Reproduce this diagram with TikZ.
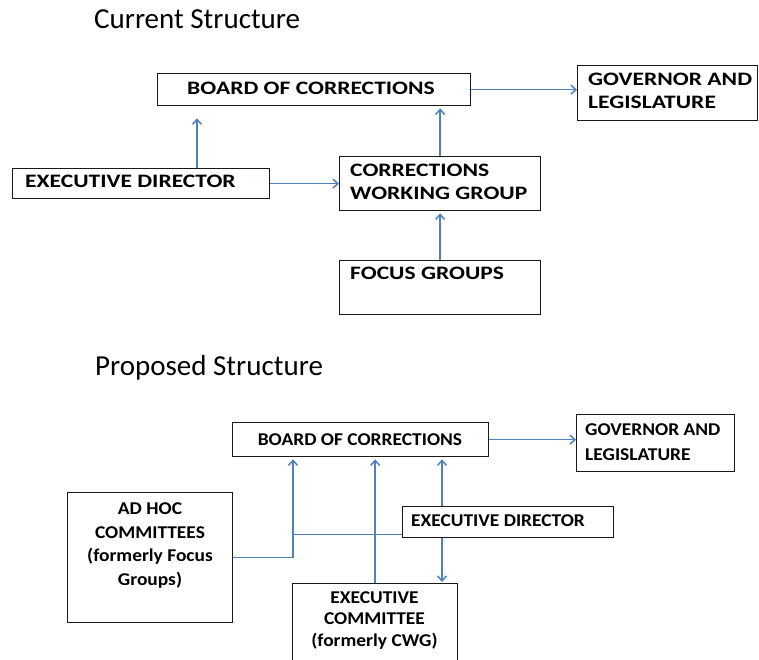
\documentclass[tikz,border=0pt]{standalone}
\usepackage{fontspec}
\setmainfont{Carlito}
\newfontfamily\topbox[FakeStretch=1.24]{Carlito}
\newfontfamily\botbox[FakeStretch=1.08]{Carlito}
\usetikzlibrary{arrows.meta}
\definecolor{linkblue}{HTML}{4F81BD}
\tikzset{
  box/.style={draw=black!90, line width=1.3pt, rectangle, inner sep=0pt, anchor=north west},
  ttl/.style={anchor=base west, inner sep=0pt, font=\fontsize{29}{34}\selectfont},
  ttext/.style={anchor=base west, inner sep=0pt, font=\topbox\bfseries\fontsize{19}{23}\selectfont, align=left},
  btext/.style={anchor=base, inner sep=0pt, font=\botbox\bfseries\fontsize{18}{23.4}\selectfont, align=center},
  btextl/.style={anchor=base west, inner sep=0pt, font=\botbox\bfseries\fontsize{18}{25}\selectfont, align=left},
  link/.style={draw=linkblue, line width=1.5pt},
  arr/.style={link, -{Straight Barb[length=5pt,width=9pt]}},
}
\begin{document}
\begin{tikzpicture}[x=1pt, y=-1pt]
\useasboundingbox (0,0) rectangle (759,660);
\clip (0,0) rectangle (759,660);

% ---------- Current structure ----------
\node[ttl] (t1) at (94,29) {Current Structure};

\node[box, minimum width=313pt, minimum height=32pt] (bc1) at (157,73) {};
\node[ttext] (bc1t) at (187,95) {BOARD OF CORRECTIONS};

\node[box, minimum width=180pt, minimum height=55pt] (gov1) at (577,65) {};
\node[ttext] (gov1t) at (588,109) {GOVERNOR AND\\LEGISLATURE};

\node[box, minimum width=257pt, minimum height=30pt] (ed1) at (12,168) {};
\node[ttext] (ed1t) at (25,188) {EXECUTIVE DIRECTOR};

\node[box, minimum width=201pt, minimum height=54pt] (cwg) at (339,156) {};
\node[ttext] (cwgt) at (350,200) {CORRECTIONS\\WORKING GROUP};

\node[box, minimum width=201pt, minimum height=54pt] (fg) at (339,260) {};
\node[ttext] (fgt) at (350,279) {FOCUS GROUPS};

\draw[arr] (bc1.east) -- (bc1.east -| gov1.west);
\draw[arr, shorten >=12pt] ([xshift=185pt]ed1.north west) -- ([xshift=185pt]ed1.north west |- bc1.south);
\draw[arr] (ed1.east) -- (ed1.east -| cwg.west);
\draw[arr, shorten >=2pt] (cwg.north) -- (cwg.north |- bc1.south);
\draw[arr, shorten >=2pt] (fg.north) -- (cwg.south);

% ---------- Proposed structure ----------
\node[ttl] (t2) at (95,375) {Proposed Structure};

\node[box, minimum width=256pt, minimum height=34pt] (bc2) at (232,422) {};
\node[btext] (bc2t) at (360,445) {BOARD OF CORRECTIONS};

\node[box, minimum width=158pt, minimum height=57pt] (gov2) at (576,414) {};
\node[btextl] (gov2t) at (585,460) {GOVERNOR AND\\LEGISLATURE};

\node[box, minimum width=165pt, minimum height=130pt] (ah) at (67,492) {};
\node[btext] (aht) at (150,585) {AD HOC\\COMMITTEES\\(formerly Focus\\Groups)};

\node[box, minimum width=211pt, minimum height=31pt] (ed2) at (402,506) {};
\node[btextl] (ed2t) at (411,526) {EXECUTIVE DIRECTOR};

\node[box, minimum width=165pt, minimum height=100pt] (ec) at (292,583) {};
\node[btext, font=\botbox\bfseries\fontsize{18}{21.5}\selectfont] (ect) at (374.5,646) {EXECUTIVE\\COMMITTEE\\(formerly CWG)};

\coordinate (jx) at (293,0);

\draw[arr] (bc2.east) -- (bc2.east -| gov2.west);
\draw[arr, shorten >=2pt] (ah.east) -| (jx |- bc2.south);
\draw[link] ([yshift=-12.5pt]ed2.west) -- ([yshift=-12.5pt]ed2.west -| jx);
\draw[arr, shorten >=2pt] (ec.north) -- (ec.north |- bc2.south);
\draw[arr, shorten >=2pt] ([xshift=40pt]ed2.north west) -- ([xshift=40pt]ed2.north west |- bc2.south);
\draw[arr, shorten >=1pt] ([xshift=40pt]ed2.south west) -- ([xshift=40pt]ed2.south west |- ec.north);
\end{tikzpicture}
\end{document}
